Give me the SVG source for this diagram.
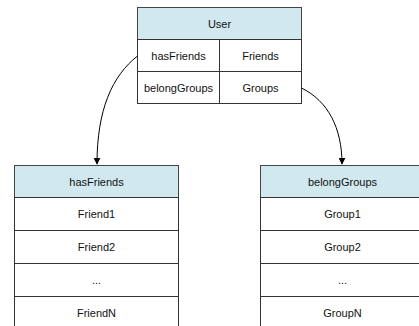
<svg xmlns="http://www.w3.org/2000/svg" width="419" height="326" viewBox="0 0 419 326">
<style>
.hdr{fill:#d1e8ee;stroke:#444;stroke-width:1}
.cell{fill:#fff;stroke:#333;stroke-width:1}
text{font-family:"Liberation Sans",Arial,sans-serif;font-size:11px;fill:#111;text-anchor:middle;dominant-baseline:central}
.edge{fill:none;stroke:#000;stroke-width:1}
</style>
<defs>
<marker id="ah" viewBox="0 0 10 10" refX="9" refY="5" markerWidth="7" markerHeight="7" markerUnits="userSpaceOnUse" orient="auto">
<path d="M0,0 L10,5 L0,10 z" fill="#000"/>
</marker>
</defs>
<rect width="419" height="326" fill="#fff"/>
<g id="user">
<rect class="hdr" x="137.5" y="7.5" width="164" height="32"/>
<text x="219.5" y="23.5">User</text>
<rect class="cell" x="137.5" y="39.5" width="82" height="32"/>
<rect class="cell" x="219.5" y="39.5" width="82" height="32"/>
<rect class="cell" x="137.5" y="71.5" width="82" height="32"/>
<rect class="cell" x="219.5" y="71.5" width="82" height="32"/>
<text x="178.5" y="55.5">hasFriends</text>
<text x="260.5" y="55.5">Friends</text>
<text x="178.5" y="87.5">belongGroups</text>
<text x="260.5" y="87.5">Groups</text>
</g>
<g id="hasFriends">
<rect class="hdr" x="14.5" y="165.5" width="164" height="32"/>
<text x="96.5" y="181.5">hasFriends</text>
<rect class="cell" x="14.5" y="197.5" width="164" height="33"/>
<text x="96.5" y="214">Friend1</text>
<rect class="cell" x="14.5" y="230.5" width="164" height="33"/>
<text x="96.5" y="247">Friend2</text>
<rect class="cell" x="14.5" y="263.5" width="164" height="33"/>
<text x="96.5" y="280">...</text>
<rect class="cell" x="14.5" y="296.5" width="164" height="33"/>
<text x="96.5" y="313">FriendN</text>
</g>
<g id="belongGroups">
<rect class="hdr" x="260.5" y="165.5" width="164" height="32"/>
<text x="342.5" y="181.5">belongGroups</text>
<rect class="cell" x="260.5" y="197.5" width="164" height="33"/>
<text x="342.5" y="214">Group1</text>
<rect class="cell" x="260.5" y="230.5" width="164" height="33"/>
<text x="342.5" y="247">Group2</text>
<rect class="cell" x="260.5" y="263.5" width="164" height="33"/>
<text x="342.5" y="280">...</text>
<rect class="cell" x="260.5" y="296.5" width="164" height="33"/>
<text x="342.5" y="313">GroupN</text>
</g>
<g id="connectors">
<path class="edge" d="M137.5,56 C112,76 97,110 97,164" marker-end="url(#ah)"/>
<path class="edge" d="M301.5,88 C328,101 342,128 342,164" marker-end="url(#ah)"/>
</g>
</svg>
